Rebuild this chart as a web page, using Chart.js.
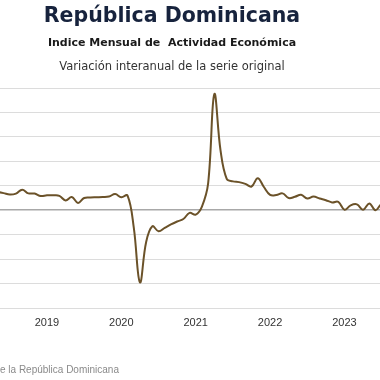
<!DOCTYPE html>
<html>
<head>
<meta charset="utf-8">
<script src="https://cdn.jsdelivr.net/npm/chart.js@4"></script>
<style>
  body { margin: 0; background: #fff; overflow: hidden; }
  #wrap { position: relative; width: 380px; height: 380px; overflow: hidden; font-family: "DejaVu Sans", sans-serif; }
  #chart { position: absolute; left: 0; top: 0; }
  .titulo { position: absolute; left: 0; width: 344px; text-align: center; white-space: pre; }
  #t1 { top: 5px; font-size: 20.5px; line-height: 20.5px; font-weight: bold; color: #17233d; }
  #t2 { top: 37px; font-size: 11px; line-height: 11px; font-weight: bold; color: #1a1a1a; }
  #t3 { top: 61px; font-size: 11.5px; line-height: 11.5px; color: #333; }
  #fuente { position: absolute; left: 0; top: 365px; font-family: "Liberation Sans", Arial, sans-serif; font-size: 10px; line-height: 10px; color: #8a8a8a; white-space: pre; }
  #fuente span { position: absolute; right: 100%; }
</style>
</head>
<body>
<div id="wrap">
  <canvas id="chart" width="380" height="380"></canvas>
  <div class="titulo" id="t1">República Dominicana</div>
  <div class="titulo" id="t2">Indice Mensual de  Actividad Económica</div>
  <div class="titulo" id="t3">Variación interanual de la serie original</div>
  <div id="fuente"><span>Fuente: Banco Central d</span>e la República Dominicana</div>
</div>
<script>
// serie mensual, desde mayo 2018
const anioInicio = 2018;
const mesInicio = 5;
const variacion = [
  7.5, 7.0, 6.4, 6.8, 8.4, 6.9, 6.8, 5.8,          // may-dic 2018
  6.1, 6.1, 5.9, 4.0, 5.4, 3.0, 5.0, 5.2, 5.3, 5.4, 5.6, 6.6,   // 2019
  5.3, 6.0, -7.0, -29.5, -13.0, -6.6, -8.6, -7.2, -5.8, -4.6, -3.6, -1.1, // 2020
  -1.8, 1.5, 11.0, 47.5, 24.5, 12.8, 11.8, 11.5, 10.8, 9.7, 13.1, 9.5,   // 2021
  6.3, 6.2, 6.9, 5.0, 5.5, 6.3, 4.8, 5.6, 4.8, 4.1, 3.2, 3.4,            // 2022
  0.2, 2.0, 2.4, 0.2, 2.8, 0.0, 2.5, 2.2                                 // 2023
];
const anios = ['2019', '2020', '2021', '2022', '2023'];
const yTicks = [-40, -30, -20, -10, 0, 10, 20, 30, 40, 50];

// meses contados desde enero 2019
const offset = (anioInicio - 2019) * 12 + (mesInicio - 1);
const puntos = variacion.map((v, i) => ({ x: offset + i, y: v }));
const tickMeses = anios.map((a) => (Number(a) - 2019) * 12);

new Chart(document.getElementById('chart'), {
  type: 'line',
  data: {
    datasets: [{
      data: puntos,
      borderColor: '#6b5229',
      borderWidth: 2,
      pointRadius: 0,
      tension: 0.4,
      fill: false
    }]
  },
  options: {
    responsive: false,
    animation: false,
    layout: { padding: { top: 88, bottom: 42.8, left: 0, right: 0 } },
    plugins: { legend: { display: false }, tooltip: { enabled: false } },
    scales: {
      x: {
        type: 'linear',
        min: -7.58,
        max: 53.73,
        grid: { display: false, drawTicks: false },
        border: { display: false },
        afterBuildTicks: (scale) => {
          scale.ticks = tickMeses.map((m) => ({ value: m }));
        },
        ticks: {
          padding: 8,
          color: '#333',
          font: { family: '"Liberation Sans", Arial, sans-serif', size: 11 },
          autoSkip: false,
          maxRotation: 0,
          callback: (v) => anios[tickMeses.indexOf(v)]
        }
      },
      y: {
        min: yTicks[0],
        max: yTicks[yTicks.length - 1],
        afterBuildTicks: (scale) => {
          scale.ticks = yTicks.map((t) => ({ value: t }));
        },
        ticks: { display: false },
        border: { display: false },
        grid: {
          drawTicks: false,
          color: (ctx) => (ctx.tick && ctx.tick.value === 0 ? '#a8a8a8' : '#dcdcdc'),
          lineWidth: (ctx) => (ctx.tick && ctx.tick.value === 0 ? 1.5 : 1)
        }
      }
    }
  }
});
</script>
</body>
</html>
